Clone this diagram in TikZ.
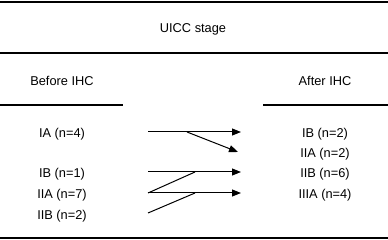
\documentclass[tikz,border=0pt]{standalone}
\usepackage{fontspec}
\setmainfont{Liberation Sans}
\usetikzlibrary{arrows.meta}

\begin{document}
\begin{tikzpicture}[
    x=1pt, y=-1pt,
    lb/.style={font=\fontsize{12.8}{15}\selectfont, inner sep=0pt, text centered},
    rl/.style={line width=1.2pt},
    ar/.style={-{Triangle[length=9pt, width=7pt]}, line width=1pt},
    ln/.style={line width=1pt}
  ]
  \useasboundingbox (0,0) rectangle (388,240);

  % header
  \node[lb] (uicc)   at (193, 29) {UICC stage};
  \node[lb] (before) at (62, 81)  {Before IHC};
  \node[lb] (after)  at (325, 81) {After IHC};

  % stages
  \node[lb] (ia)   at (62, 134)  {IA (n=4)};
  \node[lb] (ib)   at (62, 174)  {IB (n=1)};
  \node[lb] (iia)  at (62, 195)  {IIA (n=7)};
  \node[lb] (iib)  at (62, 216)  {IIB (n=2)};
  \node[lb] (ibx)  at (325, 134) {IB (n=2)};
  \node[lb] (iiax) at (325, 154) {IIA (n=2)};
  \node[lb] (iibx) at (325, 174) {IIB (n=6)};
  \node[lb] (iiia) at (325, 195) {IIIA (n=4)};

  % rules
  \coordinate (t0) at (0, 2);   \coordinate (t1) at (388, 2);
  \coordinate (m0) at (0, 53);  \coordinate (m1) at (388, 53);
  \coordinate (l0) at (0, 105); \coordinate (l1) at (123, 105);
  \coordinate (r0) at (263, 105); \coordinate (r1) at (388, 105);
  \coordinate (b0) at (0, 238); \coordinate (b1) at (388, 238);
  \draw[rl] (t0) -- (t1);
  \draw[rl] (m0) -- (m1);
  \draw[rl] (l0) -- (l1);
  \draw[rl] (r0) -- (r1);
  \draw[rl] (b0) -- (b1);

  % arrow ends
  \coordinate (s1) at (148, 132); \coordinate (e1) at (241, 132);
  \coordinate (k1) at (187, 132); \coordinate (e2) at (238, 152);
  \coordinate (s3) at (148, 172); \coordinate (e3) at (241, 172);
  \coordinate (k3) at (195, 172);
  \coordinate (s4) at (148, 193); \coordinate (e4) at (241, 193);
  \coordinate (k4) at (195, 193);
  \coordinate (s5) at (148, 213);

  \draw[ar] (s1) -- (e1);
  \draw[ar] (k1) -- (e2);
  \draw[ar] (s3) -- (e3);
  \draw[ar] (s4) -- (e4);
  \draw[ln] (s4) -- (k3);
  \draw[ln] (s5) -- (k4);
\end{tikzpicture}
\end{document}
